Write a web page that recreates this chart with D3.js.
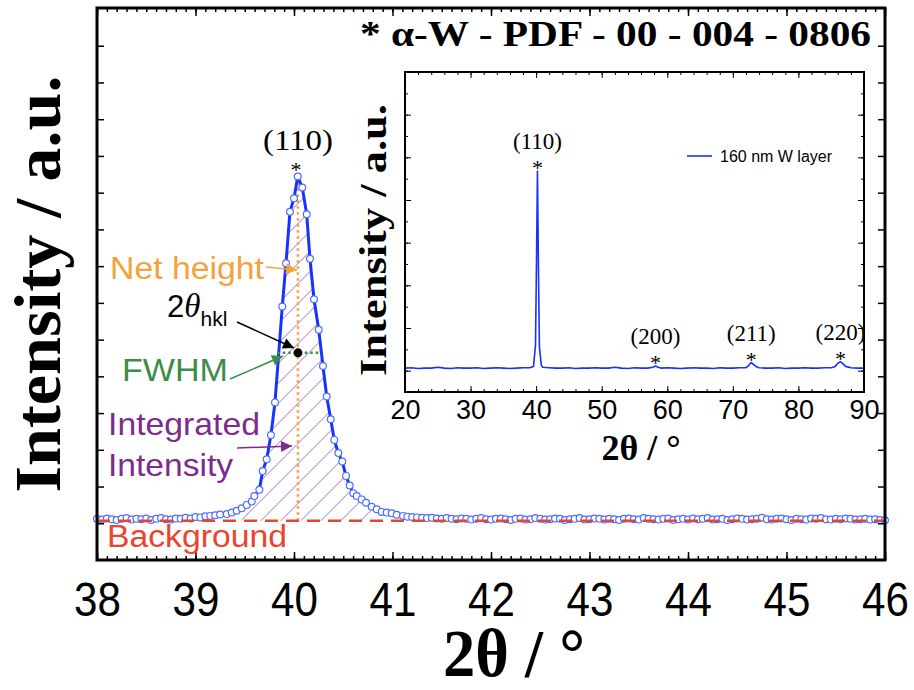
<!DOCTYPE html>
<html><head><meta charset="utf-8">
<script src="https://cdn.jsdelivr.net/npm/d3@7"></script>
<style>body{margin:0;background:#fff}svg{display:block}</style>
</head><body>
<script>
// ---------- main panel data (2θ in degrees, intensity in a.u.) ----------
const leftTailX = [38.00,38.05,38.10,38.15,38.20,38.25,38.30,38.35,38.40,38.45,38.50,38.55,38.60,38.65,38.70,38.75,38.80,38.85,38.90,38.95,39.00,39.05,39.10,39.15,39.20,39.25];
const leftTailY = [1.12,1.10,1.13,1.11,1.09,1.12,1.14,1.10,1.12,1.11,1.13,1.09,1.12,1.14,1.11,1.10,1.13,1.12,1.15,1.13,1.17,1.16,1.19,1.20,1.22,1.24];
const peakX = [39.317,39.368,39.418,39.469,39.520,39.571,39.597,39.648,39.682,39.723,39.766,39.807,39.881,39.919,39.959,40.000,40.038,40.084,40.129,40.162,40.203,40.251,40.294,40.332,40.373,40.409,40.450,40.490,40.528,40.565,40.602,40.637,40.687,40.731,40.789,40.840,40.890,40.941,40.992,41.043,41.107];
const peakY = [1.25,1.29,1.34,1.41,1.50,1.59,1.74,1.91,2.42,2.74,3.40,4.29,6.90,8.08,9.48,9.85,10.44,10.14,9.41,8.20,7.10,6.27,5.28,4.45,3.83,3.27,2.91,2.68,2.29,2.03,1.82,1.74,1.65,1.56,1.45,1.38,1.31,1.29,1.27,1.23,1.20];
const rightTailX = [41.15,41.20,41.25,41.30,41.35,41.40,41.45,41.50,41.55,41.60,
41.65,41.70,41.75,41.80,41.85,41.90,41.95,42.00,42.05,42.10,
42.15,42.20,42.25,42.30,42.35,42.40,42.45,42.50,42.55,42.60,
42.65,42.70,42.75,42.80,42.85,42.90,42.95,43.00,43.05,43.10,
43.15,43.20,43.25,43.30,43.35,43.40,43.45,43.50,43.55,43.60,
43.65,43.70,43.75,43.80,43.85,43.90,43.95,44.00,44.05,44.10,
44.15,44.20,44.25,44.30,44.35,44.40,44.45,44.50,44.55,44.60,
44.65,44.70,44.75,44.80,44.85,44.90,44.95,45.00,45.05,45.10,
45.15,45.20,45.25,45.30,45.35,45.40,45.45,45.50,45.55,45.60,
45.65,45.70,45.75,45.80,45.85,45.90,45.95,46.00];
const rightTailY = [1.18,1.17,1.16,1.15,1.14,1.15,1.13,1.12,1.14,1.12,
1.11,1.13,1.12,1.10,1.12,1.14,1.11,1.10,1.12,1.13,
1.11,1.09,1.12,1.13,1.10,1.11,1.14,1.12,1.10,1.11,
1.13,1.12,1.09,1.11,1.12,1.14,1.10,1.11,1.13,1.12,
1.10,1.12,1.11,1.09,1.12,1.13,1.11,1.10,1.14,1.12,
1.11,1.10,1.12,1.13,1.09,1.11,1.12,1.10,1.13,1.11,
1.12,1.14,1.10,1.11,1.12,1.09,1.11,1.13,1.12,1.10,
1.11,1.12,1.15,1.11,1.10,1.12,1.13,1.11,1.09,1.12,
1.11,1.10,1.13,1.12,1.14,1.11,1.10,1.12,1.11,1.13,
1.12,1.10,1.11,1.12,1.10,1.11,1.09,1.08];
const background = 1.07;
const peakPos = 40.04;          // 2θ_hkl
const peakTop = 10.44;
const fwhmLevel = 5.64;
const fwhmLeft = 39.83, fwhmRight = 40.27;
const fitRange = [39.59, 40.61];
const hatchRange = [39.44, 40.85];
const mainXTicks = [38,39,40,41,42,43,44,45,46];
const mainYTicks = [1,2,3,4,5,6,7,8,9,10,11,12,13,14];

// ---------- inset data ----------
const insetX = [20,21,22,23,24,25,26,27,28,29,30,31,32,33,34,35,36,37,38,39,
 39.6,39.9,40.05,40.2,40.35,40.5,40.8,
 41,42,43,44,45,46,47,48,49,50,51,52,53,54,55,56,57,
 57.8,58.2,58.6,
 59,60,61,62,63,64,65,66,67,68,69,70,71,72,
 72.4,72.8,73.2,73.6,
 74,75,76,77,78,79,80,81,82,83,84,85,
 85.6,86.0,86.4,86.8,87.2,
 88,89,90];
const insetY = [0.06,0.07,0.05,0.06,0.06,0.08,0.06,0.05,0.07,0.06,0.06,0.07,0.05,0.06,0.07,0.06,0.05,0.06,0.07,0.07,
 0.10,0.60,2.50,4.68,2.40,0.55,0.12,
 0.08,0.07,0.06,0.06,0.07,0.05,0.06,0.06,0.07,0.06,0.06,0.08,0.06,0.05,0.07,0.06,0.06,
 0.08,0.11,0.08,
 0.06,0.07,0.06,0.05,0.06,0.07,0.06,0.06,0.05,0.07,0.06,0.06,0.07,0.07,
 0.12,0.19,0.14,0.09,
 0.07,0.06,0.06,0.07,0.05,0.06,0.06,0.07,0.06,0.06,0.07,0.07,
 0.10,0.17,0.21,0.16,0.10,
 0.07,0.06,0.06];
const insetPeaks = ["(110)","(200)","(211)","(220)"];
const insetPeakX = [40.2, 58.2, 72.8, 86.4];
const insetPeakY = [4.68, 0.11, 0.19, 0.21];
const insetXTicks = [20,30,40,50,60,70,80,90];
const insetYTicks = [0,1,2,3,4,5,6,7];

// ---------- drawing ----------
const W = 914, H = 690;
const svg = d3.select("body").append("svg").attr("width", W).attr("height", H);
const defs = svg.append("defs");

const x = d3.scaleLinear().domain([38, 46]).range([97, 885]);
const y = d3.scaleLinear().domain([0, 15]).range([560, 9]);

const allX = leftTailX.concat(peakX, rightTailX);
const allY = leftTailY.concat(peakY, rightTailY);
const pts = allX.map((d, i) => [d, allY[i]]);

// arrow markers
function marker(id, color) {
  defs.append("marker").attr("id", id).attr("viewBox", "0 0 10 10")
    .attr("refX", 10).attr("refY", 5).attr("markerUnits", "userSpaceOnUse")
    .attr("markerWidth", 13).attr("markerHeight", 11).attr("orient", "auto")
    .append("path").attr("d", "M0,0 L10,5 L0,10 z").style("fill", color);
}
const cOrange = "#f3a23c", cGreen = "#3d8c4a", cPurple = "#7e2a8f", cRed = "#e8452c", cBlue = "#1433ff";
marker("aO", cOrange); marker("aK", "#000"); marker("aG", cGreen); marker("aP", cPurple);

// hatched integrated area (clip + diagonal strokes)
const hatchPts = pts.filter(p => p[0] >= hatchRange[0] && p[0] <= hatchRange[1]);
defs.append("clipPath").attr("id", "areaClip").append("path").datum(hatchPts)
  .attr("d", d3.area().x(p => x(p[0])).y0(y(background)).y1(p => y(p[1])));
const hatchG = svg.append("g").attr("clip-path", "url(#areaClip)");
const hx0 = x(hatchRange[0]) - 400, hx1 = x(hatchRange[1]) + 20;
hatchG.selectAll("line").data(d3.range(hx0, hx1, 20)).join("line")
  .attr("x1", d => d).attr("y1", y(background) + 2)
  .attr("x2", d => d + 400).attr("y2", y(background) + 2 - 400)
  .style("stroke", "#a66cc4").style("stroke-width", 1);

// net height dotted line
svg.append("line").attr("x1", x(peakPos)).attr("x2", x(peakPos)).attr("y1", y(background)).attr("y2", y(peakTop - 0.15))
  .style("stroke", cOrange).attr("stroke-width", 2.6).attr("stroke-dasharray", "2.5,3.5");

// fit line over peak
const fitPts = pts.filter(p => p[0] >= fitRange[0] && p[0] <= fitRange[1]);
svg.append("path").datum(fitPts)
  .attr("d", d3.line().x(p => x(p[0])).y(p => y(p[1])))
  .attr("fill", "none").style("stroke", cBlue).attr("stroke-width", 3).attr("stroke-linejoin", "round");

// data circles
svg.append("g").selectAll("circle").data(pts).join("circle")
  .attr("cx", p => x(p[0])).attr("cy", p => y(p[1])).attr("r", 3.4)
  .attr("fill", "#fff").style("stroke", "#4e6dff").attr("stroke-width", 1.2);

// background dashed line (over the circles, as in the reference)
svg.append("line").attr("x1", x(38)).attr("x2", x(46)).attr("y1", y(background)).attr("y2", y(background))
  .style("stroke", cRed).attr("stroke-width", 2.5).attr("stroke-dasharray", "13,8");

// FWHM dotted line + peak point
svg.append("line").attr("x1", x(fwhmLeft)).attr("x2", x(fwhmRight)).attr("y1", y(fwhmLevel)).attr("y2", y(fwhmLevel))
  .style("stroke", cGreen).attr("stroke-width", 2.6).attr("stroke-dasharray", "2.5,3");
svg.append("circle").attr("cx", x(peakPos)).attr("cy", y(fwhmLevel)).attr("r", 4.5).attr("fill", "#000");

// main axes (ticks inward)
function noDomain(g) { g.select(".domain").remove(); g.selectAll("line").attr("stroke", "#000").attr("stroke-width", 1.5); }
const minorX = d3.range(380, 461).map(v => v / 10);
svg.append("g").attr("transform", "translate(0,560)")
  .call(d3.axisBottom(x).tickValues(minorX).tickSize(-4).tickFormat("")).call(noDomain);
svg.append("g").attr("transform", "translate(0,8)")
  .call(d3.axisTop(x).tickValues(minorX).tickSize(-4).tickFormat("")).call(noDomain);
svg.append("g").attr("transform", "translate(0,8)")
  .call(d3.axisTop(x).tickValues(mainXTicks).tickSize(-8).tickFormat("")).call(noDomain);
const bottomMajor = svg.append("g").attr("transform", "translate(0,560)")
  .call(d3.axisBottom(x).tickValues(mainXTicks).tickSize(-8).tickPadding(0).tickFormat(d3.format("d"))).call(noDomain);
bottomMajor.selectAll("text")
  .attr("y", 0).attr("dy", 0)
  .attr("transform", "translate(0,56) scale(0.86,1)")
  .attr("font-family", "Liberation Sans, Arial, sans-serif").attr("font-size", 49).attr("fill", "#000");
svg.append("g").attr("transform", "translate(97,0)")
  .call(d3.axisLeft(y).tickValues(mainYTicks).tickSize(-7).tickFormat("")).call(noDomain);
svg.append("g").attr("transform", "translate(885,0)")
  .call(d3.axisRight(y).tickValues(mainYTicks).tickSize(-7).tickFormat("")).call(noDomain);

svg.append("rect").attr("x", 97).attr("y", 8).attr("width", 788).attr("height", 552)
  .attr("fill", "none").attr("stroke", "#000").attr("stroke-width", 3);

// main axis titles
const serif = "Liberation Serif, Times New Roman, serif";
svg.append("text").attr("transform", "translate(514,676) scale(1,1.12)").attr("text-anchor", "middle")
  .attr("font-family", serif).attr("font-weight", "bold")
  .attr("font-size", 60).attr("textLength", 142).attr("lengthAdjust", "spacingAndGlyphs").text("2θ / °");
svg.append("text").attr("transform", "translate(60,284) rotate(-90)").attr("text-anchor", "middle")
  .attr("font-family", serif).attr("font-weight", "bold")
  .attr("font-size", 66).attr("textLength", 417).attr("lengthAdjust", "spacingAndGlyphs").text("Intensity / a.u.");

// title
svg.append("text").attr("x", 360).attr("y", 46)
  .attr("font-family", serif).attr("font-weight", "bold")
  .attr("font-size", 36).attr("textLength", 511).attr("lengthAdjust", "spacingAndGlyphs")
  .text("* α-W - PDF - 00 - 004 - 0806");

// peak label main
svg.append("text").attr("x", x(peakPos)).attr("y", 150).attr("text-anchor", "middle")
  .attr("font-family", serif).attr("font-size", 29)
  .attr("textLength", 70).attr("lengthAdjust", "spacingAndGlyphs").text("(110)");
svg.append("text").attr("x", x(peakPos) - 2).attr("y", 177).attr("text-anchor", "middle")
  .attr("font-family", serif).attr("font-size", 22).text("*");

// annotations
const sans = "Liberation Sans, Arial, Helvetica, sans-serif";
svg.append("text").attr("x", 110).attr("y", 279).attr("font-family", sans).attr("font-size", 31)
  .style("fill", cOrange).attr("textLength", 154).attr("lengthAdjust", "spacingAndGlyphs").text("Net height");
svg.append("line").attr("x1", 266).attr("y1", 267).attr("x2", 297).attr("y2", 270)
  .style("stroke", cOrange).attr("stroke-width", 1.5).attr("marker-end", "url(#aO)");

const th = svg.append("text").attr("x", 167).attr("y", 317).attr("font-family", sans).attr("font-size", 31).attr("fill", "#000");
th.append("tspan").text("2");
th.append("tspan").attr("font-style", "italic").attr("font-family", serif).attr("font-size", 33).text("θ");
th.append("tspan").attr("font-size", 21).attr("dy", 9).text("hkl");
svg.append("line").attr("x1", 237).attr("y1", 322).attr("x2", 294).attr("y2", 348)
  .style("stroke", "#000").attr("stroke-width", 1.5).attr("marker-end", "url(#aK)");

svg.append("text").attr("x", 122).attr("y", 381).attr("font-family", sans).attr("font-size", 31)
  .style("fill", cGreen).attr("textLength", 106).attr("lengthAdjust", "spacingAndGlyphs").text("FWHM");
svg.append("line").attr("x1", 230).attr("y1", 379).attr("x2", 283).attr("y2", 356)
  .style("stroke", cGreen).attr("stroke-width", 1.5).attr("marker-end", "url(#aG)");

svg.append("text").attr("x", 108).attr("y", 435).attr("font-family", sans).attr("font-size", 32)
  .style("fill", cPurple).attr("textLength", 152).attr("lengthAdjust", "spacingAndGlyphs").text("Integrated");
svg.append("text").attr("x", 108).attr("y", 476).attr("font-family", sans).attr("font-size", 32)
  .style("fill", cPurple).attr("textLength", 125).attr("lengthAdjust", "spacingAndGlyphs").text("Intensity");
svg.append("line").attr("x1", 237).attr("y1", 448).attr("x2", 292).attr("y2", 446)
  .style("stroke", cPurple).attr("stroke-width", 1.5).attr("marker-end", "url(#aP)");

svg.append("text").attr("x", 107).attr("y", 547).attr("font-family", sans).attr("font-size", 31)
  .style("fill", cRed).attr("textLength", 180).attr("lengthAdjust", "spacingAndGlyphs").text("Background");

// ---------- inset ----------
const xi = d3.scaleLinear().domain([20, 90]).range([405, 864]);
const yi = d3.scaleLinear().domain([-0.5, 7]).range([392, 72]);
svg.append("rect").attr("x", 405).attr("y", 72).attr("width", 459).attr("height", 320).attr("fill", "#fff");
const insetPts = insetX.map((d, i) => [d, insetY[i]]);
svg.append("path").datum(insetPts)
  .attr("d", d3.line().x(p => xi(p[0])).y(p => yi(p[1])))
  .attr("fill", "none").style("stroke", cBlue).attr("stroke-width", 1.6).attr("stroke-linejoin", "round");

function thin(g) { g.select(".domain").remove(); g.selectAll("line").attr("stroke", "#000").attr("stroke-width", 1); }
const iMinorX = d3.range(20, 91, 2), iMinorY = d3.range(-0.5, 7.01, 0.5);
svg.append("g").attr("transform", "translate(0,392)").call(d3.axisBottom(xi).tickValues(iMinorX).tickSize(-3).tickFormat("")).call(thin);
svg.append("g").attr("transform", "translate(0,72)").call(d3.axisTop(xi).tickValues(iMinorX).tickSize(-3).tickFormat("")).call(thin);
svg.append("g").attr("transform", "translate(0,72)").call(d3.axisTop(xi).tickValues(insetXTicks).tickSize(-6).tickFormat("")).call(thin);
const ib = svg.append("g").attr("transform", "translate(0,392)")
  .call(d3.axisBottom(xi).tickValues(insetXTicks).tickSize(-6).tickPadding(0).tickFormat(d3.format("d"))).call(thin);
ib.selectAll("text").attr("y", 27).attr("dy", 0).attr("font-family", sans).attr("font-size", 27).attr("fill", "#000");
svg.append("g").attr("transform", "translate(405,0)").call(d3.axisLeft(yi).tickValues(iMinorY).tickSize(-3).tickFormat("")).call(thin);
svg.append("g").attr("transform", "translate(405,0)").call(d3.axisLeft(yi).tickValues(insetYTicks).tickSize(-6).tickFormat("")).call(thin);
svg.append("g").attr("transform", "translate(864,0)").call(d3.axisRight(yi).tickValues(iMinorY).tickSize(-3).tickFormat("")).call(thin);
svg.append("g").attr("transform", "translate(864,0)").call(d3.axisRight(yi).tickValues(insetYTicks).tickSize(-6).tickFormat("")).call(thin);
svg.append("rect").attr("x", 405).attr("y", 72).attr("width", 459).attr("height", 320)
  .attr("fill", "none").attr("stroke", "#000").attr("stroke-width", 2);

// inset peak labels
insetPeaks.forEach((lab, i) => {
  const px = xi(insetPeakX[i]), py = yi(insetPeakY[i]);
  svg.append("text").attr("x", px).attr("y", py + 4).attr("text-anchor", "middle")
    .attr("font-family", serif).attr("font-size", 22).text("*");
  svg.append("text").attr("x", px).attr("y", py - 22).attr("text-anchor", "middle")
    .attr("font-family", serif).attr("font-size", 23).text(lab);
});

// inset legend
svg.append("line").attr("x1", 687).attr("x2", 712).attr("y1", 156).attr("y2", 156).style("stroke", cBlue).attr("stroke-width", 1.6);
svg.append("text").attr("x", 720).attr("y", 162).attr("font-family", sans).attr("font-size", 16).text("160 nm W layer");

// inset axis titles
svg.append("text").attr("x", 641).attr("y", 460).attr("text-anchor", "middle")
  .attr("font-family", serif).attr("font-weight", "bold").attr("font-size", 36).text("2θ / °");
svg.append("text").attr("transform", "translate(386,240) rotate(-90)").attr("text-anchor", "middle")
  .attr("font-family", serif).attr("font-weight", "bold").attr("font-size", 38)
  .attr("textLength", 272).attr("lengthAdjust", "spacingAndGlyphs").text("Intensity / a.u.");
</script>
</body></html>
